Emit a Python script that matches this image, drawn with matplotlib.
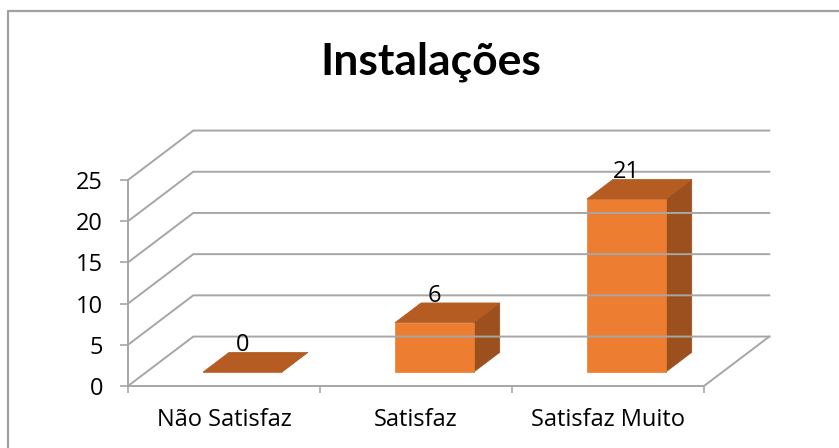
import numpy as np
import matplotlib
matplotlib.use('Agg')
import matplotlib.pyplot as plt
from matplotlib.patches import Polygon
from matplotlib.lines import Line2D

categories = ['Não Satisfaz', 'Satisfaz', 'Satisfaz Muito']
values = [0, 6, 21]
yticks = [0, 5, 10, 15, 20, 25]
title = 'Instalações'

plt.rcParams['font.family'] = ['Open Sans', 'DejaVu Sans']

GRID = '#a6a6a6'
FRONT, TOP, SIDE = '#ED7D31', '#B45C22', '#9B501D'

# pseudo-3D: depth z in [0, 1] shifts right by DX (category units) and up by DY (value units)
DX, DY = 0.34, 6.0
Z0, ZD = 0.28, 0.40      # bar front depth and bar depth
BW = 0.41                # bar width


def proj(x, z, v):
    return (x + z * DX, v + z * DY)


fig = plt.figure(figsize=(8.39, 4.48), dpi=100)
ax = fig.add_axes([128 / 839, 62 / 448, 576 / 839, 206 / 448])
ax.set_xlim(-0.5, 2.5)
ax.set_ylim(0, 25)

x0, x1 = -0.5, 2.5
for v in yticks:
    pts = [proj(x0, 0, v), proj(x0, 1, v), proj(x1, 1, v)]
    ax.add_line(Line2D(*zip(*pts), color=GRID, lw=1.4, clip_on=False))
# floor right edge
pts = [proj(x1, 0, 0), proj(x1, 1, 0)]
ax.add_line(Line2D(*zip(*pts), color=GRID, lw=1.4, clip_on=False))

for i, v in enumerate(values):
    l, r = i - BW / 2, i + BW / 2
    za, zb = Z0, Z0 + ZD
    top = [proj(l, za, v), proj(r, za, v), proj(r, zb, v), proj(l, zb, v)]
    side = [proj(r, za, 0), proj(r, zb, 0), proj(r, zb, v), proj(r, za, v)]
    front = [proj(l, za, 0), proj(r, za, 0), proj(r, za, v), proj(l, za, v)]
    for poly, c in ((side, SIDE), (front, FRONT), (top, TOP)):
        ax.add_patch(Polygon(poly, closed=True, facecolor=c, edgecolor=c,
                             lw=0.5, clip_on=False))
    lx = proj(i, za, v)[0]
    ly = proj(i, zb, v)[1]
    ax.text(lx, ly - 0.6, str(v), ha='center', va='bottom', fontsize=17,
            color='black', clip_on=False)

for s in ('top', 'right'):
    ax.spines[s].set_visible(False)
for s in ('left', 'bottom'):
    ax.spines[s].set_color(GRID)
    ax.spines[s].set_linewidth(1.4)

ax.set_yticks(yticks)
ax.tick_params(axis='y', length=6, width=1.2, color=GRID, pad=12, labelsize=17)
ax.set_xticks(range(len(categories)))
ax.set_xticklabels(categories)
ax.set_xticks([-0.5, 0.5, 1.5, 2.5], minor=True)
ax.tick_params(axis='x', which='major', length=0, pad=16, labelsize=17)
ax.tick_params(axis='x', which='minor', length=5, width=1.2, color=GRID)
ax.set_facecolor('none')

fig.text(431 / 839, 1 - 62 / 448, title, ha='center', va='center',
         fontsize=32, fontweight='bold', family=['Lato', 'DejaVu Sans'])

# chart border (cropped at right and bottom)
fig.add_artist(Line2D([8 / 839, 8 / 839, 1.0], [0.0, 1 - 11 / 448, 1 - 11 / 448],
                      transform=fig.transFigure, color='#a0a0a0', lw=1.6))

fig.savefig('out.png', dpi=100)
